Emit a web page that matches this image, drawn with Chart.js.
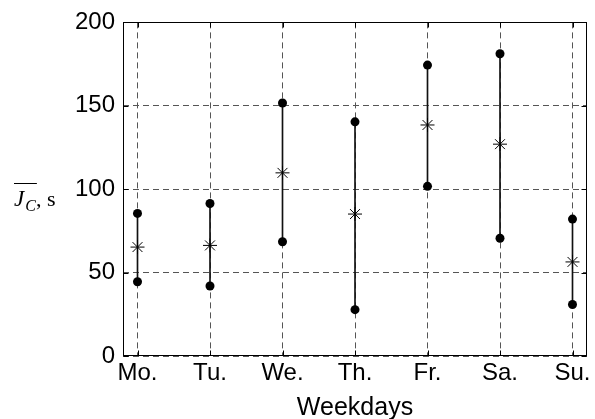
<!DOCTYPE html>
<html>
<head>
<meta charset="utf-8">
<script src="https://cdn.jsdelivr.net/npm/chart.js@4/dist/chart.umd.min.js"></script>
<style>
html,body{margin:0;padding:0;background:#fff;}
#wrap{width:595px;height:419px;position:relative;}
</style>
</head>
<body>
<div id="wrap"><canvas id="c" width="595" height="419"></canvas></div>
<script>
const days = ['Mo.', 'Tu.', 'We.', 'Th.', 'Fr.', 'Sa.', 'Su.'];
const meanValues = [65.3, 66.3, 109.8, 85.1, 138.5, 127.0, 56.4];
const maxValues  = [85.5, 91.4, 151.7, 140.4, 174.4, 181.2, 82.1];
const minValues  = [44.5, 42.0, 68.5, 27.8, 101.7, 70.6, 30.9];
const yTicks = [0, 50, 100, 150, 200];
const xTitle = 'Weekdays';

const boxPlugin = {
  id: 'box',
  afterDraw(chart) {
    const ctx = chart.ctx;
    const a = chart.chartArea;
    const xs = chart.scales.x, ys = chart.scales.y;
    ctx.save();
    ctx.strokeStyle = '#000';
    ctx.lineWidth = 1;
    ctx.setLineDash([]);
    const L = Math.round(a.left) + 0.5, R = Math.round(a.right) - 0.5;
    const T = Math.round(a.top) + 0.5, B = Math.round(a.bottom) - 0.5;
    ctx.strokeRect(L, T, R - L, B - T);
    const tl = 5;
    ctx.beginPath();
    xs.ticks.forEach(t => {
      const px = Math.round(xs.getPixelForValue(t.value)) + 0.5;
      ctx.moveTo(px, B); ctx.lineTo(px, B - tl);
      ctx.moveTo(px, T); ctx.lineTo(px, T + tl);
    });
    ys.ticks.forEach(t => {
      const py = Math.round(ys.getPixelForValue(t.value)) + 0.5;
      ctx.moveTo(L, py); ctx.lineTo(L + tl, py);
      ctx.moveTo(R, py); ctx.lineTo(R - tl, py);
    });
    ctx.stroke();
    // y axis label: overline J_C, s
    ctx.fillStyle = '#000';
    ctx.textBaseline = 'alphabetic';
    ctx.textAlign = 'left';
    const base = 206;
    let x = 14;
    ctx.font = 'italic 23px "Liberation Serif"';
    ctx.fillText('J', x, base);
    const wJ = ctx.measureText('J').width;
    ctx.font = 'italic 16px "Liberation Serif"';
    ctx.fillText('C', x + wJ + 1, base + 5);
    const wC = ctx.measureText('C').width;
    const endC = x + wJ + 1 + wC;
    ctx.font = '22px "Liberation Serif"';
    ctx.fillText(', s', endC, base);
    ctx.beginPath();
    ctx.moveTo(x, 183.5); ctx.lineTo(endC + 1, 183.5);
    ctx.stroke();
    ctx.restore();
  }
};

const chart = new Chart(document.getElementById('c'), {
  type: 'scatter',
  data: {
    datasets: [
      {
        type: 'bar',
        data: days.map((d, i) => ({ x: i + 1, y: [minValues[i], maxValues[i]] })),
        backgroundColor: '#111',
        borderWidth: 0,
        barThickness: 1,
        grouped: false,
        order: 3
      },
      {
        data: days.map((d, i) => ({ x: i + 1, y: maxValues[i] })),
        pointStyle: 'circle',
        pointRadius: 4.5,
        backgroundColor: '#000',
        borderColor: '#000',
        borderWidth: 0,
        order: 1
      },
      {
        data: days.map((d, i) => ({ x: i + 1, y: minValues[i] })),
        pointStyle: 'circle',
        pointRadius: 4.5,
        backgroundColor: '#000',
        borderColor: '#000',
        borderWidth: 0,
        order: 1
      },
      {
        data: days.map((d, i) => ({ x: i + 1, y: meanValues[i] })),
        pointStyle: 'star',
        pointRadius: 7,
        backgroundColor: '#000',
        borderColor: '#000',
        borderWidth: 1,
        order: 0
      }
    ]
  },
  options: {
    responsive: false,
    animation: false,
    events: [],
    layout: { padding: { top: 18, right: 3, left: 0, bottom: 0 } },
    plugins: { legend: { display: false }, tooltip: { enabled: false } },
    scales: {
      x: {
        type: 'linear',
        min: 0.8,
        max: 7.2,
        offset: false,
        afterBuildTicks(scale) { scale.ticks = days.map((d, i) => ({ value: i + 1 })); },
        afterFit(scale) { scale.height = 63; },
        ticks: {
          autoSkip: false,
          maxRotation: 0,
          padding: 3,
          color: '#000',
          font: { family: 'Liberation Sans', size: 24 },
          callback(v) { return days[Math.round(v) - 1]; }
        },
        grid: { color: '#555', lineWidth: 1, drawTicks: false, offset: false },
        border: { display: false, dash: [6, 4] },
        title: {
          display: true,
          text: xTitle,
          color: '#000',
          font: { family: 'Liberation Sans', size: 25, lineHeight: 1 },
          padding: { top: 0, bottom: -2 }
        }
      },
      y: {
        min: 0,
        max: 200,
        afterBuildTicks(scale) { scale.ticks = yTicks.map(v => ({ value: v })); },
        afterFit(scale) { scale.width = 123; },
        ticks: {
          padding: 8,
          color: '#000',
          font: { family: 'Liberation Sans', size: 24 }
        },
        grid: { color: '#555', lineWidth: 1, drawTicks: false },
        border: { display: false, dash: [6, 4] }
      }
    }
  },
  plugins: [boxPlugin]
});
</script>
</body>
</html>
